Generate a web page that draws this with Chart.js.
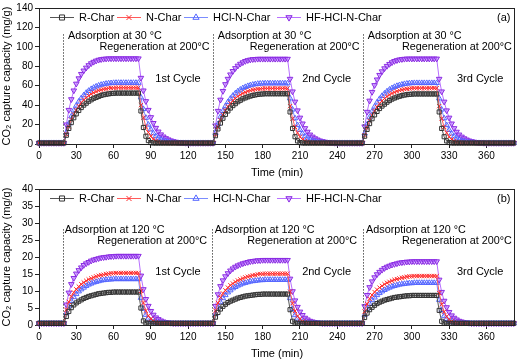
<!DOCTYPE html>
<html>
<head>
<meta charset="utf-8">
<script src="https://cdn.jsdelivr.net/npm/chart.js@4.4.1/dist/chart.umd.min.js"></script>
<style>
  html, body { margin: 0; padding: 0; background: #fff; }
  .panel { position: relative; width: 520px; height: 181px; }
</style>
</head>
<body>
<div class="panel"><canvas id="chartA"></canvas></div>
<div class="panel"><canvas id="chartB"></canvas></div>
<script>
// sampling times (min)
const timeMin = [
  0, 2, 4, 6, 8, 10, 12, 14, 16, 18, 20, 22, 24, 26, 28, 30, 32, 34, 36, 38,
  40, 42, 44, 46, 48, 50, 52, 54, 56, 58, 60, 62, 64, 66, 68, 70, 72, 74, 76, 78,
  80, 82, 84, 86, 88, 90, 92, 94, 96, 98, 100, 102, 104, 106, 108, 110, 112, 114, 116, 118,
  120, 122, 124, 126, 128, 130, 132, 134, 136, 138, 140, 142, 144, 146, 148, 150, 152, 154, 156, 158,
  160, 162, 164, 166, 168, 170, 172, 174, 176, 178, 180, 182, 184, 186, 188, 190, 192, 194, 196, 198,
  200, 202, 204, 206, 208, 210, 212, 214, 216, 218, 220, 222, 224, 226, 228, 230, 232, 234, 236, 238,
  240, 242, 244, 246, 248, 250, 252, 254, 256, 258, 260, 262, 264, 266, 268, 270, 272, 274, 276, 278,
  280, 282, 284, 286, 288, 290, 292, 294, 296, 298, 300, 302, 304, 306, 308, 310, 312, 314, 316, 318,
  320, 322, 324, 326, 328, 330, 332, 334, 336, 338, 340, 342, 344, 346, 348, 350, 352, 354, 356, 358,
  360, 362, 364, 366, 368, 370, 372, 374, 376, 378, 380, 382
];

const seriesNames = ["R-Char", "N-Char", "HCl-N-Char", "HF-HCl-N-Char"];
const xTickValues = [0, 30, 60, 90, 120, 150, 180, 210, 240, 270, 300, 330, 360];

// (a) adsorption at 30 °C, mg/g
const rCharA = [
  1, 1, 1, 1, 1, 1, 1, 1, 1, 1, 1,
  9, 16, 22, 27, 31, 34.5, 37.5, 40, 42, 44,
  45.5, 47, 48, 49, 50, 50.7, 51.2, 51.6, 52, 52.2,
  52.4, 52.4, 52.4, 52.4, 52.4, 52.4, 52.4, 52.4, 52.4, 52.4,
  34, 17, 8, 3.5, 1.5, 1, 1, 1, 1, 1,
  1, 1, 1, 1, 1, 1, 1, 1, 1, 1,
  1, 1, 1, 1, 1, 1, 1, 1, 1,
  1,
  8.5, 15.5, 21.5, 26.5, 30.5, 34, 37, 39.5, 41.5, 43.5,
  45, 46.5, 47.5, 48.5, 49.3, 50, 50.5, 51, 51.3, 51.5,
  51.7, 51.7, 51.7, 51.7, 51.7, 51.7, 51.7, 51.7, 51.7, 51.7,
  33, 16, 7.5, 3.2, 1.5, 1, 1, 1, 1, 1,
  1, 1, 1, 1, 1, 1, 1, 1, 1, 1,
  1, 1, 1, 1, 1, 1, 1, 1, 1,
  1,
  8, 15, 21, 26, 30, 33.5, 36.5, 39, 41, 43,
  44.7, 46.2, 47.3, 48.3, 49.1, 49.8, 50.4, 50.8, 51.1, 51.3,
  51.5, 51.5, 51.5, 51.5, 51.5, 51.5, 51.5, 51.5, 51.5, 51.5,
  33, 16, 7.5, 3.2, 1.5, 1, 1, 1, 1, 1,
  1, 1, 1, 1, 1, 1, 1, 1, 1, 1,
  1, 1, 1, 1, 1, 1, 1, 1, 1, 1,
  1
];
const nCharA = [
  1, 1, 1, 1, 1, 1, 1, 1, 1, 1, 1,
  10, 18, 25, 30.5, 35, 39, 42.5, 45.3, 47.7, 49.7,
  51.4, 52.8, 54, 55, 55.8, 56.4, 56.9, 57.3, 57.6, 57.8,
  58, 58, 58, 58, 58, 58, 58, 58, 58, 58,
  40, 27, 18, 12, 8, 5, 3.2, 2.2, 1.5, 1.2,
  1, 1, 1, 1, 1, 1, 1, 1, 1, 1,
  1, 1, 1, 1, 1, 1, 1, 1, 1,
  1,
  9.5, 17.5, 24.5, 30, 34.5, 38.5, 41.8, 44.6, 47, 49,
  50.7, 52.1, 53.3, 54.3, 55.1, 55.7, 56.2, 56.6, 56.9, 57.1,
  57.2, 57.2, 57.2, 57.2, 57.2, 57.2, 57.2, 57.2, 57.2, 57.2,
  39, 26, 17.5, 11.5, 7.5, 4.8, 3, 2, 1.5, 1.2,
  1, 1, 1, 1, 1, 1, 1, 1, 1, 1,
  1, 1, 1, 1, 1, 1, 1, 1, 1,
  1,
  9, 17, 24, 29.5, 34, 38, 41.5, 44.4, 46.8, 48.9,
  50.6, 52.1, 53.3, 54.3, 55.2, 55.8, 56.4, 56.8, 57.1, 57.3,
  57.5, 57.5, 57.5, 57.5, 57.5, 57.5, 57.5, 57.5, 57.5, 57.5,
  39, 26, 17.5, 11.5, 7.5, 4.8, 3, 2, 1.5, 1.2,
  1, 1, 1, 1, 1, 1, 1, 1, 1, 1,
  1, 1, 1, 1, 1, 1, 1, 1, 1, 1,
  1
];
const hclA = [
  1, 1, 1, 1, 1, 1, 1, 1, 1, 1, 1,
  12, 21, 28.5, 34.5, 39.5, 43.7, 47.2, 50.2, 52.7, 54.8,
  56.6, 58, 59.2, 60.2, 61, 61.6, 62.1, 62.5, 62.7, 62.9,
  63, 63, 63, 63, 63, 63, 63, 63, 63, 63,
  48, 36, 27, 20, 15, 11, 8, 6, 4.5, 3.4,
  2.6, 2, 1.6, 1.3, 1.1, 1, 1, 1, 1, 1,
  1, 1, 1, 1, 1, 1, 1, 1, 1,
  1,
  11.5, 20.5, 28, 34, 39, 43.2, 46.7, 49.7, 52.2, 54.3,
  56, 57.5, 58.7, 59.7, 60.5, 61.1, 61.6, 62, 62.2, 62.4,
  62.5, 62.5, 62.5, 62.5, 62.5, 62.5, 62.5, 62.5, 62.5, 62.5,
  47, 35.5, 26.5, 19.5, 14.5, 10.8, 7.8, 5.8, 4.4, 3.3,
  2.5, 2, 1.6, 1.3, 1.1, 1, 1, 1, 1, 1,
  1, 1, 1, 1, 1, 1, 1, 1, 1,
  1,
  11, 20, 27.5, 33.5, 38.5, 42.8, 46.4, 49.5, 52, 54.2,
  56, 57.5, 58.8, 59.8, 60.6, 61.2, 61.8, 62.2, 62.5, 62.7,
  62.8, 62.8, 62.8, 62.8, 62.8, 62.8, 62.8, 62.8, 62.8, 62.8,
  47, 35.5, 26.5, 19.5, 14.5, 10.8, 7.8, 5.8, 4.4, 3.3,
  2.5, 2, 1.6, 1.3, 1.1, 1, 1, 1, 1, 1,
  1, 1, 1, 1, 1, 1, 1, 1, 1, 1,
  1
];
const hfA = [
  1, 1, 1, 1, 1, 1, 1, 1, 1, 1, 1,
  20, 35, 46, 55, 62, 67.5, 72, 75.5, 78.5, 81,
  83, 84.5, 85.7, 86.6, 87.2, 87.6, 87.8, 88, 88, 88,
  88, 88, 88, 88, 88, 88, 88, 88, 88, 88,
  68, 55, 44, 35, 27.5, 21.5, 16.5, 12.7, 9.8, 7.6,
  5.9, 4.6, 3.6, 2.8, 2.2, 1.8, 1.5, 1.3, 1.1, 1,
  1, 1, 1, 1, 1, 1, 1, 1, 1,
  1,
  19, 34, 45.5, 54.5, 61.5, 67, 71.5, 75, 78, 80.5,
  82.5, 84, 85.3, 86.2, 86.8, 87.2, 87.4, 87.6, 87.6, 87.6,
  87.6, 87.6, 87.6, 87.6, 87.6, 87.6, 87.6, 87.6, 87.6, 87.6,
  67, 54, 43.5, 34.5, 27, 21, 16.2, 12.5, 9.6, 7.5,
  5.8, 4.5, 3.5, 2.8, 2.2, 1.8, 1.5, 1.3, 1.1, 1,
  1, 1, 1, 1, 1, 1, 1, 1, 1,
  1,
  18, 33, 44.5, 53.5, 60.5, 66.3, 71, 74.7, 77.8, 80.3,
  82.3, 84, 85.3, 86.2, 86.9, 87.3, 87.6, 87.8, 87.8, 87.8,
  87.8, 87.8, 87.8, 87.8, 87.8, 87.8, 87.8, 87.8, 87.8, 87.8,
  67, 54, 43.5, 34.5, 27, 21, 16.2, 12.5, 9.6, 7.5,
  5.8, 4.5, 3.5, 2.8, 2.2, 1.8, 1.5, 1.3, 1.1, 1,
  1, 1, 1, 1, 1, 1, 1, 1, 1, 1,
  1
];

// (b) adsorption at 120 °C, mg/g
const rCharB = [
  0.5, 0.5, 0.5, 0.5, 0.5, 0.5, 0.5, 0.5, 0.5, 0.5, 0.5,
  2.5, 4, 5.1, 5.9, 6.5, 7, 7.4, 7.8, 8.1, 8.4,
  8.6, 8.8, 9, 9.2, 9.3, 9.4, 9.5, 9.6, 9.6, 9.7,
  9.7, 9.7, 9.7, 9.7, 9.7, 9.7, 9.7, 9.7, 9.7, 9.7,
  5, 1.2, 0.6, 0.5, 0.5, 0.5, 0.5, 0.5, 0.5, 0.5,
  0.5, 0.5, 0.5, 0.5, 0.5, 0.5, 0.5, 0.5, 0.5, 0.5,
  0.5, 0.5, 0.5, 0.5, 0.5, 0.5, 0.5, 0.5, 0.5,
  0.5,
  2.3, 3.7, 4.7, 5.5, 6.1, 6.6, 7, 7.3, 7.6, 7.9,
  8.1, 8.3, 8.5, 8.6, 8.7, 8.8, 8.9, 9, 9, 9.1,
  9.1, 9.1, 9.1, 9.1, 9.1, 9.1, 9.1, 9.1, 9.1, 9.1,
  4.5, 1.1, 0.6, 0.5, 0.5, 0.5, 0.5, 0.5, 0.5, 0.5,
  0.5, 0.5, 0.5, 0.5, 0.5, 0.5, 0.5, 0.5, 0.5, 0.5,
  0.5, 0.5, 0.5, 0.5, 0.5, 0.5, 0.5, 0.5, 0.5,
  0.5,
  2.2, 3.5, 4.5, 5.2, 5.8, 6.3, 6.7, 7, 7.3, 7.5,
  7.7, 7.9, 8.1, 8.2, 8.3, 8.4, 8.5, 8.6, 8.6, 8.7,
  8.7, 8.7, 8.7, 8.7, 8.7, 8.7, 8.7, 8.7, 8.7, 8.7,
  4.3, 1.1, 0.6, 0.5, 0.5, 0.5, 0.5, 0.5, 0.5, 0.5,
  0.5, 0.5, 0.5, 0.5, 0.5, 0.5, 0.5, 0.5, 0.5, 0.5,
  0.5, 0.5, 0.5, 0.5, 0.5, 0.5, 0.5, 0.5, 0.5, 0.5,
  0.5
];
const nCharB = [
  0.5, 0.5, 0.5, 0.5, 0.5, 0.5, 0.5, 0.5, 0.5, 0.5, 0.5,
  4.5, 6.8, 8.4, 9.6, 10.5, 11.3, 12, 12.5, 13, 13.4,
  13.7, 14, 14.3, 14.5, 14.7, 14.8, 15, 15.1, 15.2, 15.2,
  15.3, 15.3, 15.3, 15.3, 15.3, 15.3, 15.3, 15.3, 15.3, 15.3,
  10, 6.5, 4.2, 2.7, 1.8, 1.2, 0.8, 0.6, 0.5, 0.5,
  0.5, 0.5, 0.5, 0.5, 0.5, 0.5, 0.5, 0.5, 0.5, 0.5,
  0.5, 0.5, 0.5, 0.5, 0.5, 0.5, 0.5, 0.5, 0.5,
  0.5,
  4.2, 6.5, 8.1, 9.3, 10.2, 11, 11.7, 12.2, 12.7, 13.1,
  13.4, 13.7, 14, 14.2, 14.4, 14.6, 14.7, 14.9, 15, 15,
  15.1, 15.1, 15.1, 15.1, 15.1, 15.1, 15.1, 15.1, 15.1, 15.1,
  9.8, 6.4, 4.1, 2.6, 1.7, 1.1, 0.8, 0.6, 0.5, 0.5,
  0.5, 0.5, 0.5, 0.5, 0.5, 0.5, 0.5, 0.5, 0.5, 0.5,
  0.5, 0.5, 0.5, 0.5, 0.5, 0.5, 0.5, 0.5, 0.5,
  0.5,
  4, 6.2, 7.7, 8.8, 9.7, 10.4, 11, 11.5, 12, 12.4,
  12.7, 13, 13.3, 13.5, 13.7, 13.9, 14, 14.2, 14.3, 14.3,
  14.4, 14.4, 14.4, 14.4, 14.4, 14.4, 14.4, 14.4, 14.4, 14.4,
  9.4, 6.1, 3.9, 2.5, 1.6, 1.1, 0.8, 0.6, 0.5, 0.5,
  0.5, 0.5, 0.5, 0.5, 0.5, 0.5, 0.5, 0.5, 0.5, 0.5,
  0.5, 0.5, 0.5, 0.5, 0.5, 0.5, 0.5, 0.5, 0.5, 0.5,
  0.5
];
const hclB = [
  0.5, 0.5, 0.5, 0.5, 0.5, 0.5, 0.5, 0.5, 0.5, 0.5, 0.5,
  3.5, 5.5, 7, 8.2, 9.1, 9.9, 10.5, 11, 11.5, 11.9,
  12.2, 12.5, 12.7, 12.9, 13.1, 13.2, 13.3, 13.4, 13.4, 13.5,
  13.5, 13.5, 13.5, 13.5, 13.5, 13.5, 13.5, 13.5, 13.5, 13.5,
  8, 4.8, 3, 1.9, 1.3, 0.9, 0.7, 0.6, 0.5, 0.5,
  0.5, 0.5, 0.5, 0.5, 0.5, 0.5, 0.5, 0.5, 0.5, 0.5,
  0.5, 0.5, 0.5, 0.5, 0.5, 0.5, 0.5, 0.5, 0.5,
  0.5,
  3.3, 5.2, 6.7, 7.9, 8.8, 9.6, 10.2, 10.8, 11.2, 11.6,
  11.9, 12.2, 12.4, 12.6, 12.8, 12.9, 13, 13.1, 13.2, 13.2,
  13.3, 13.3, 13.3, 13.3, 13.3, 13.3, 13.3, 13.3, 13.3, 13.3,
  7.9, 4.7, 2.9, 1.9, 1.3, 0.9, 0.7, 0.6, 0.5, 0.5,
  0.5, 0.5, 0.5, 0.5, 0.5, 0.5, 0.5, 0.5, 0.5, 0.5,
  0.5, 0.5, 0.5, 0.5, 0.5, 0.5, 0.5, 0.5, 0.5,
  0.5,
  3, 4.8, 6.2, 7.3, 8.1, 8.8, 9.4, 9.9, 10.3, 10.7,
  11, 11.3, 11.5, 11.7, 11.9, 12, 12.1, 12.2, 12.3, 12.3,
  12.4, 12.4, 12.4, 12.4, 12.4, 12.4, 12.4, 12.4, 12.4, 12.4,
  7.4, 4.4, 2.7, 1.8, 1.2, 0.9, 0.7, 0.6, 0.5, 0.5,
  0.5, 0.5, 0.5, 0.5, 0.5, 0.5, 0.5, 0.5, 0.5, 0.5,
  0.5, 0.5, 0.5, 0.5, 0.5, 0.5, 0.5, 0.5, 0.5, 0.5,
  0.5
];
const hfB = [
  0.5, 0.5, 0.5, 0.5, 0.5, 0.5, 0.5, 0.5, 0.5, 0.5, 0.5,
  6, 9.5, 12, 13.8, 15.1, 16.1, 16.9, 17.6, 18.1, 18.5,
  18.9, 19.2, 19.4, 19.6, 19.8, 19.9, 20, 20.1, 20.2, 20.2,
  20.3, 20.3, 20.3, 20.3, 20.3, 20.3, 20.3, 20.3, 20.3, 20.3,
  14.5, 10.5, 7.6, 5.6, 4.1, 3, 2.2, 1.7, 1.3, 1,
  0.8, 0.7, 0.6, 0.5, 0.5, 0.5, 0.5, 0.5, 0.5, 0.5,
  0.5, 0.5, 0.5, 0.5, 0.5, 0.5, 0.5, 0.5, 0.5,
  0.5,
  5.6, 9, 11.4, 13.1, 14.3, 15.2, 16, 16.6, 17.1, 17.5,
  17.8, 18.1, 18.3, 18.5, 18.7, 18.8, 18.9, 19, 19, 19.1,
  19.1, 19.1, 19.1, 19.1, 19.1, 19.1, 19.1, 19.1, 19.1, 19.1,
  13.6, 9.9, 7.2, 5.3, 3.9, 2.9, 2.1, 1.6, 1.2, 1,
  0.8, 0.7, 0.6, 0.5, 0.5, 0.5, 0.5, 0.5, 0.5, 0.5,
  0.5, 0.5, 0.5, 0.5, 0.5, 0.5, 0.5, 0.5, 0.5,
  0.5,
  5.5, 8.8, 11.1, 12.8, 14, 14.9, 15.6, 16.2, 16.7, 17.1,
  17.4, 17.7, 17.9, 18.1, 18.3, 18.4, 18.5, 18.6, 18.6, 18.7,
  18.7, 18.7, 18.7, 18.7, 18.7, 18.7, 18.7, 18.7, 18.7, 18.7,
  13.3, 9.7, 7.1, 5.2, 3.8, 2.8, 2.1, 1.6, 1.2, 1,
  0.8, 0.7, 0.6, 0.5, 0.5, 0.5, 0.5, 0.5, 0.5, 0.5,
  0.5, 0.5, 0.5, 0.5, 0.5, 0.5, 0.5, 0.5, 0.5, 0.5,
  0.5
];

Chart.defaults.font.family = '"Liberation Sans", Arial, sans-serif';
Chart.defaults.color = "#000";

const styles = [
  { borderColor: "#555555", pointStyle: "rect", pointRadius: 2.9, pointBorderColor: "#333333", pointBackgroundColor: "rgba(255,255,255,0)", pointRotation: 0 },
  { borderColor: "#ff5a5a", pointStyle: "crossRot", pointRadius: 3, pointBorderColor: "#ff2a2a", pointBackgroundColor: "rgba(255,255,255,0)", pointRotation: 0 },
  { borderColor: "#7b8dff", pointStyle: "triangle", pointRadius: 3.1, pointBorderColor: "#5566ff", pointBackgroundColor: "rgba(255,255,255,0)", pointRotation: 0 },
  { borderColor: "#b870ff", pointStyle: "triangle", pointRadius: 3.2, pointBorderColor: "#8a2be2", pointBackgroundColor: "rgba(190,130,255,0.6)", pointRotation: 180 }
];

function pairs(vals) {
  return timeMin.map((t, i) => ({ x: t, y: vals[i] }));
}

const framePlugin = {
  id: "frame",
  afterDraw(chart) {
    const { ctx, chartArea: a } = chart;
    ctx.save();
    ctx.strokeStyle = "#222";
    ctx.lineWidth = 1;
    const l = Math.round(a.left) + 0.5, t = Math.round(a.top) + 0.5;
    const r = Math.round(a.right) - 0.5, b = Math.round(a.bottom) + 0.5;
    ctx.strokeRect(l, t, r - l, b - t);
    ctx.restore();
  }
};

const notesPlugin = {
  id: "notes",
  afterDatasetsDraw(chart, args, opts) {
    const { ctx } = chart;
    const xs = chart.scales.x, ys = chart.scales.y;
    ctx.save();
    ctx.strokeStyle = "#555";
    ctx.lineWidth = 1;
    ctx.setLineDash([1.5, 1.5]);
    opts.lines.forEach(l => {
      const px = Math.round(xs.getPixelForValue(l.x)) + 0.5;
      ctx.beginPath();
      ctx.moveTo(px, ys.getPixelForValue(l.top));
      ctx.lineTo(px, ys.getPixelForValue(0));
      ctx.stroke();
    });
    ctx.setLineDash([]);
    ctx.fillStyle = "#000";
    ctx.textBaseline = "middle";
    opts.texts.forEach(t => {
      ctx.font = t.font;
      ctx.textAlign = t.align;
      ctx.fillText(t.text, xs.getPixelForValue(t.x), ys.getPixelForValue(t.y));
    });
    ctx.restore();
  }
};

const keyPlugin = {
  id: "key",
  afterDatasetsDraw(chart, args, opts) {
    const { ctx } = chart;
    const y = Math.round(chart.scales.y.getPixelForValue(opts.y)) + 0.5;
    chart.data.datasets.forEach((ds, i) => {
      const x0 = opts.x[i];
      ctx.save();
      ctx.strokeStyle = ds.borderColor;
      ctx.lineWidth = 1;
      ctx.beginPath();
      ctx.moveTo(x0, y);
      ctx.lineTo(x0 + 24, y);
      ctx.stroke();
      ctx.strokeStyle = ds.pointBorderColor;
      ctx.fillStyle = ds.pointBackgroundColor;
      Chart.helpers.drawPoint(ctx, { pointStyle: ds.pointStyle, radius: 3.6, rotation: ds.pointRotation, borderWidth: 1 }, x0 + 12, y);
      ctx.fillStyle = "#000";
      ctx.font = '11px "Liberation Sans", Arial, sans-serif';
      ctx.textAlign = "left";
      ctx.textBaseline = "middle";
      ctx.fillText(ds.label, x0 + 29, y);
      ctx.restore();
    });
  }
};

function makeChart(id, series, yMax, yStep, notes, keyY) {
  const datasets = series.map((vals, i) => ({
    label: seriesNames[i],
    data: pairs(vals),
    borderWidth: 1,
    pointBorderWidth: 1,
    clip: false,
    ...styles[i]
  }));
  return new Chart(document.getElementById(id), {
    type: "line",
    data: { datasets },
    plugins: [framePlugin, notesPlugin, keyPlugin],
    options: {
      responsive: true,
      maintainAspectRatio: false,
      animation: false,
      devicePixelRatio: 1,
      layout: { padding: { top: 4, right: 2, left: 0, bottom: 0 } },
      plugins: {
        legend: { display: false },
        tooltip: { enabled: false },
        notes,
        key: { x: [50, 117, 184, 277], y: keyY }
      },
      scales: {
        x: {
          type: "linear",
          min: 0,
          max: 383,
          afterBuildTicks: s => { s.ticks = xTickValues.map(v => ({ value: v })); },
          afterFit: s => { s.height = 37; },
          ticks: { font: { size: 10 }, padding: 2, maxRotation: 0, autoSkip: false },
          grid: { drawOnChartArea: false, tickLength: 4, color: "#222" },
          border: { display: false },
          title: { display: true, text: "Time (min)", font: { size: 11 }, padding: { top: 0, bottom: 1 } }
        },
        y: {
          min: 0,
          max: yMax,
          ticks: { stepSize: yStep, font: { size: 10 }, padding: 2 },
          afterFit: s => { s.width = 39; },
          grid: { drawOnChartArea: false, tickLength: 4, color: "#222" },
          border: { display: false },
          title: { display: true, text: "CO₂ capture capacity (mg/g)", font: { size: 11 }, padding: 0 }
        }
      }
    }
  });
}

const txt = '10.8px "Liberation Sans", Arial, sans-serif';
const big = '11px "Liberation Sans", Arial, sans-serif';

makeChart("chartA", [rCharA, nCharA, hclA, hfA], 140, 20, {
  lines: [{ x: 19.5, top: 113 }, { x: 140, top: 113 }, { x: 261, top: 113 }],
  texts: [
    { text: "Adsorption at 30 °C", x: 23.4, y: 111, align: "left", font: txt },
    { text: "Adsorption at 30 °C", x: 143.8, y: 111, align: "left", font: txt },
    { text: "Adsorption at 30 °C", x: 264.6, y: 111, align: "left", font: txt },
    { text: "Regeneration at 200°C", x: 137.2, y: 100, align: "right", font: txt },
    { text: "Regeneration at 200°C", x: 258, y: 100, align: "right", font: txt },
    { text: "Regeneration at 200°C", x: 380.5, y: 100, align: "right", font: txt },
    { text: "1st Cycle", x: 111.8, y: 66.6, align: "center", font: big },
    { text: "2nd Cycle", x: 231.4, y: 66.6, align: "center", font: big },
    { text: "3rd Cycle", x: 355, y: 66.6, align: "center", font: big },
    { text: "(a)", x: 373.9, y: 130, align: "center", font: big }
  ]
}, 130.3);

makeChart("chartB", [rCharB, nCharB, hclB, hfB], 40, 5, {
  lines: [{ x: 19.5, top: 28.2 }, { x: 139, top: 28.2 }, { x: 261, top: 28.2 }],
  texts: [
    { text: "Adsorption at 120 °C", x: 20.8, y: 27.9, align: "left", font: txt },
    { text: "Adsorption at 120 °C", x: 141.5, y: 27.9, align: "left", font: txt },
    { text: "Adsorption at 120 °C", x: 263.2, y: 27.9, align: "left", font: txt },
    { text: "Regeneration at 200°C", x: 135.3, y: 24.6, align: "right", font: txt },
    { text: "Regeneration at 200°C", x: 256, y: 24.6, align: "right", font: txt },
    { text: "Regeneration at 200°C", x: 380.5, y: 24.6, align: "right", font: txt },
    { text: "1st Cycle", x: 111.8, y: 15.6, align: "center", font: big },
    { text: "2nd Cycle", x: 231.4, y: 15.6, align: "center", font: big },
    { text: "3rd Cycle", x: 355, y: 15.6, align: "center", font: big },
    { text: "(b)", x: 373.9, y: 37.2, align: "center", font: big }
  ]
}, 37.5);
</script>
</body>
</html>
